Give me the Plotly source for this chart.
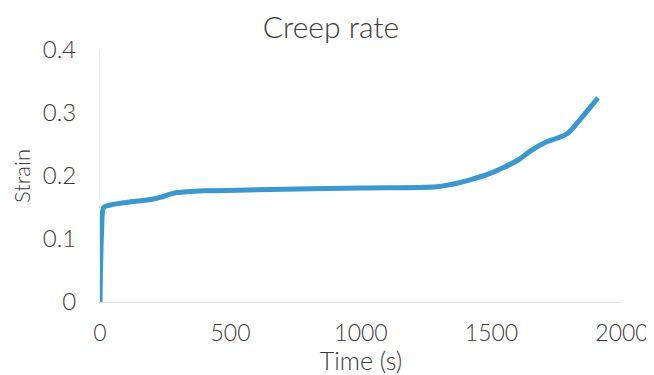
import plotly.graph_objects as go

time_s = [0, 6, 14, 30, 100, 200, 230, 260, 290, 330, 400, 600, 1000, 1290, 1350, 1418, 1500, 1544, 1600, 1650, 1700, 1750, 1790, 1840, 1908]
strain = [0, 0.11, 0.150, 0.153, 0.158, 0.163, 0.166, 0.170, 0.1735, 0.175, 0.1765, 0.178, 0.181, 0.183, 0.187, 0.194, 0.205, 0.213, 0.225, 0.240, 0.252, 0.260, 0.267, 0.290, 0.324]

x_ticks = [0, 500, 1000, 1500, 2000]
y_ticks = [0, 0.1, 0.2, 0.3, 0.4]
y_tick_text = ["0", "0.1", "0.2", "0.3", "0.4"]

FONT = "Lato"
TXT = "#3a3a3a"

fig = go.Figure()
fig.add_trace(go.Scatter(
    x=time_s, y=strain, mode="lines",
    line=dict(color="#3a98cf", width=5, shape="spline", smoothing=0.9),
    hoverinfo="skip", showlegend=False,
))

# page body has an 8px margin: figure is sized/offset so the plot lands where the reference has it
fig.update_layout(
    width=646, height=367,
    margin=dict(l=92, r=32, t=42, b=73, autoexpand=False),
    paper_bgcolor="white", plot_bgcolor="white",
    title=dict(text="Creep rate", x=0.5, xanchor="center", y=1 - 19 / 367, yanchor="middle",
               font=dict(family=FONT, size=30, color=TXT, weight=300), automargin=False),
    font=dict(family=FONT, color=TXT, weight=300),
)
fig.update_xaxes(
    range=[0, 2000], tickvals=x_ticks, ticktext=[str(v) for v in x_ticks],
    showgrid=False, zeroline=False, showline=True, linecolor="#e3e3e3", linewidth=1,
    ticks="outside", ticklen=10, tickcolor="rgba(0,0,0,0)", automargin=True,
    tickfont=dict(family=FONT, size=23, color=TXT, weight=300),
    title=dict(text="Time (s)", standoff=2, font=dict(family=FONT, size=25, color=TXT, weight=300)),
)
fig.update_yaxes(
    range=[0, 0.4], tickvals=y_ticks, ticktext=y_tick_text,
    showgrid=False, zeroline=False, showline=True, linecolor="#eeeeee", linewidth=1,
    ticks="outside", ticklen=18, tickcolor="rgba(0,0,0,0)", automargin=True,
    tickfont=dict(family=FONT, size=24, color=TXT, weight=300),
    title=dict(text="Strain", standoff=8, font=dict(family=FONT, size=22, color=TXT, weight=300)),
)

fig.write_html("out.html")
